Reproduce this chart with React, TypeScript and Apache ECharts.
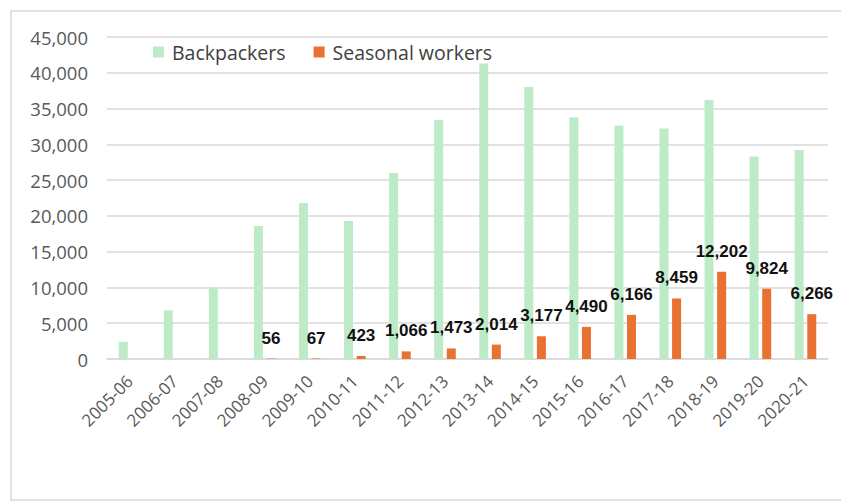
import React, { useEffect, useRef } from "react";
import * as echarts from "echarts";

const categories = [
  "2005-06", "2006-07", "2007-08", "2008-09", "2009-10", "2010-11", "2011-12", "2012-13",
  "2013-14", "2014-15", "2015-16", "2016-17", "2017-18", "2018-19", "2019-20", "2020-21",
];
const backpackers = [
  2400, 6800, 10000, 18600, 21800, 19300, 26000, 33400,
  41300, 38000, 33800, 32600, 32200, 36200, 28300, 29200,
];
const seasonalWorkers: (number | null)[] = [
  null, null, null, 56, 67, 423, 1066, 1473,
  2014, 3177, 4490, 6166, 8459, 12202, 9824, 6266,
];
const yTicks = { min: 0, max: 45000, interval: 5000 };

const fmt = (v: number) => v.toLocaleString("en-US");

export default function App() {
  const ref = useRef<HTMLDivElement>(null);
  useEffect(() => {
    if (!ref.current) return;
    const chart = echarts.init(ref.current, null, { renderer: "svg" });
    chart.setOption({
      animation: false,
      backgroundColor: "#ffffff",
      graphic: [
        {
          type: "rect",
          shape: { x: 11, y: 11, width: 840, height: 489 },
          style: { fill: "none", stroke: "#d9d9d9", lineWidth: 1.5 },
          silent: true,
        },
      ],
      legend: {
        left: 148,
        top: 37,
        itemWidth: 11,
        itemHeight: 11,
        itemGap: 28,
        icon: "rect",
        textStyle: {
          fontFamily: "Open Sans",
          fontSize: 19.5,
          color: "#404040",
          padding: [0, 0, 0, 3],
        },
        data: ["Backpackers", "Seasonal workers"],
      },
      grid: { left: 107, right: 13, top: 37, bottom: 143 },
      xAxis: {
        type: "category",
        data: categories,
        axisLine: { lineStyle: { color: "#d9d9d9", width: 1.5 } },
        axisTick: { show: false },
        axisLabel: {
          rotate: 45,
          interval: 0,
          margin: 19,
          fontFamily: "Open Sans",
          fontSize: 17,
          color: "#595959",
        },
      },
      yAxis: {
        type: "value",
        min: yTicks.min,
        max: yTicks.max,
        interval: yTicks.interval,
        axisLine: { show: false },
        axisTick: { show: false },
        splitLine: { lineStyle: { color: "#d9d9d9", width: 1.5 } },
        axisLabel: {
          margin: 19,
          fontFamily: "Open Sans",
          fontSize: 18.5,
          color: "#595959",
          formatter: (v: number) => fmt(v),
        },
      },
      series: [
        {
          name: "Backpackers",
          type: "bar",
          data: backpackers,
          barWidth: 9,
          barGap: "40%",
          itemStyle: { color: "#bdebc8" },
        },
        {
          name: "Seasonal workers",
          type: "bar",
          data: seasonalWorkers,
          barWidth: 9,
          itemStyle: { color: "#e97132" },
          label: {
            show: true,
            position: "top",
            distance: 12,
            fontFamily: "Liberation Sans",
            fontWeight: "bold",
            fontSize: 17,
            color: "#111111",
            formatter: (p: any) => (p.value == null ? "" : fmt(p.value)),
          },
        },
      ],
    });
    return () => chart.dispose();
  }, []);
  return (
    <div
      ref={ref}
      style={{ position: "fixed", left: 0, top: 0, width: 841, height: 502 }}
    />
  );
}
